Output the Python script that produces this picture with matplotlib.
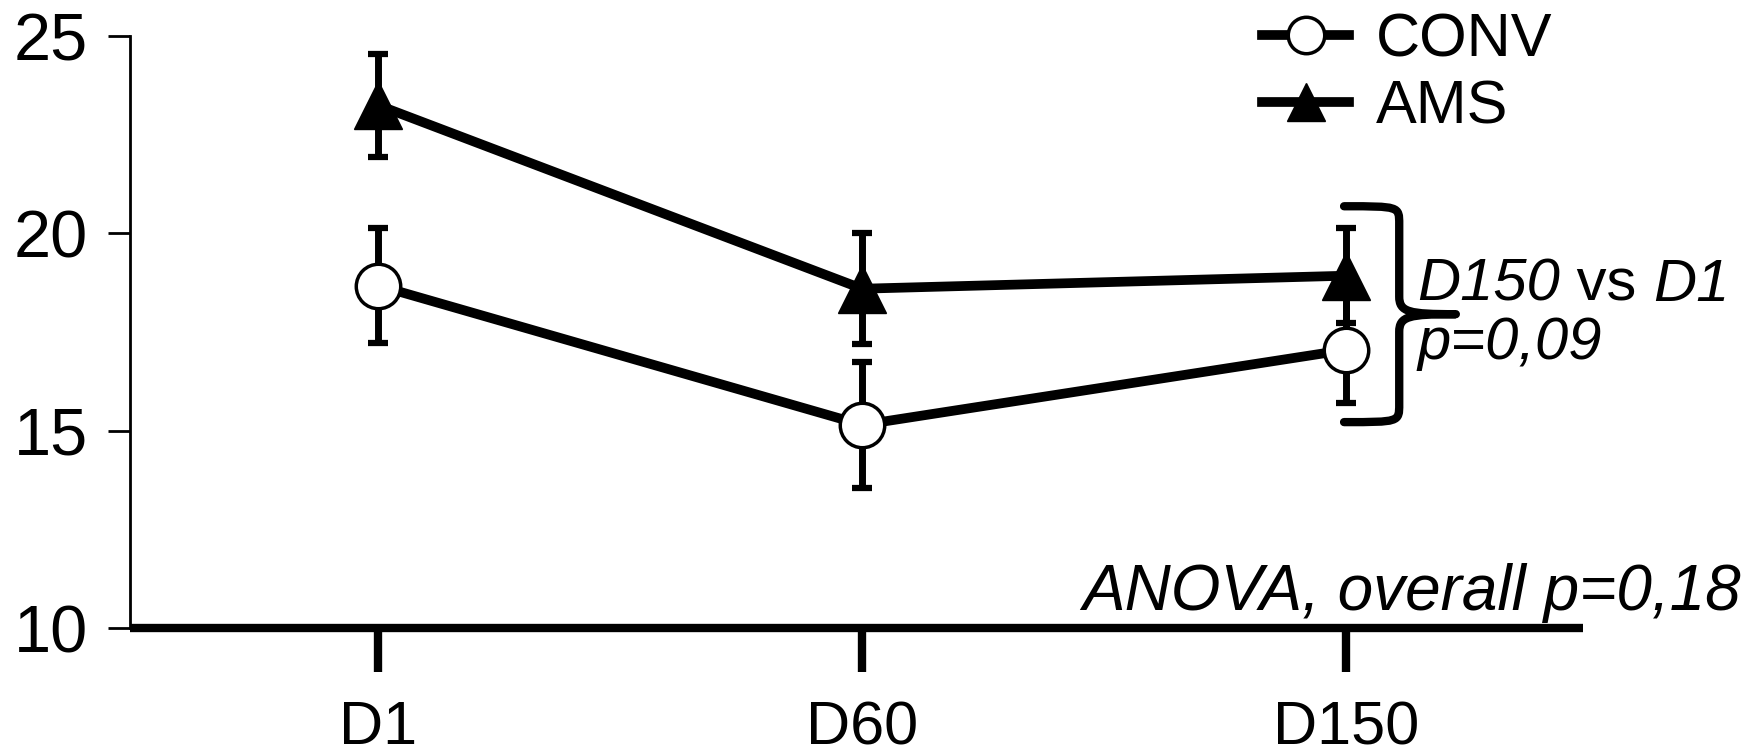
import numpy as np
import matplotlib
matplotlib.use("Agg")
import matplotlib.pyplot as plt
from matplotlib.path import Path
from matplotlib.patches import PathPatch

plt.rcParams['font.family'] = ['Liberation Sans', 'DejaVu Sans']

# --- data ---
days = ["D1", "D60", "D150"]
conv_mean = [18.68, 15.15, 17.05]
conv_err = [1.46, 1.6, 1.35]
ams_mean = [23.25, 18.6, 18.93]
ams_err = [1.3, 1.4, 1.2]
yticks = [10, 15, 20, 25]

# bracket annotation (data units)
brace_top, brace_bot = 20.69, 15.22

x = np.arange(1, len(days) + 1)

fig = plt.figure(figsize=(17.59, 7.54), dpi=100)
ax = fig.add_axes([0.0739, 0.167, 0.9 - 0.0739, 0.952 - 0.167])

# error bars behind lines/markers
ax.errorbar(x, conv_mean, yerr=conv_err, fmt='none', ecolor='black',
            elinewidth=5, capsize=7, capthick=4.5, zorder=1)
ax.errorbar(x, ams_mean, yerr=ams_err, fmt='none', ecolor='black',
            elinewidth=5, capsize=7, capthick=4.5, zorder=1)

h_conv, = ax.plot(x, conv_mean, color='black', lw=7, marker='o', ms=32,
                  mfc='white', mec='black', mew=2.5, zorder=3, label='CONV')
h_ams, = ax.plot(x, ams_mean, color='black', lw=7, marker='^', ms=34,
                 mfc='black', mec='black', zorder=3, label='AMS')

ax.set_xlim(0.487, 3.49)
ax.set_ylim(10, 25)

for s in ['top', 'right']:
    ax.spines[s].set_visible(False)
ax.spines['left'].set_linewidth(2)
ax.spines['bottom'].set_linewidth(6)
ax.spines['bottom'].set_capstyle('butt')

ax.set_yticks(yticks)
ax.set_yticklabels([str(v) for v in yticks])
ax.tick_params(axis='y', direction='out', length=16, width=2, pad=14, labelsize=48)
ax.set_xticks(x)
ax.set_xticklabels(days)
ax.tick_params(axis='x', direction='out', length=32, width=6, pad=20, labelsize=44)

# legend
fig.legend(handles=[h_conv, h_ams], loc='upper left', bbox_to_anchor=(0.700, 1.024),
           frameon=False, fontsize=44, handlelength=1.43, handletextpad=0.43,
           labelspacing=0.16, borderpad=0, markerscale=0.82, numpoints=1)

# curly brace at D150
x0, xv, xtip = 2.996, 3.11, 3.227
ym = (brace_top + brace_bot) / 2
r = 0.45
verts = [
    (x0, brace_top), (xv, brace_top), (xv, brace_top), (xv, brace_top - r),
    (xv, ym + r),
    (xv, ym + 0.05), (xv + 0.02, ym), (xtip, ym),
    (xv + 0.02, ym), (xv, ym - 0.05), (xv, ym - r),
    (xv, brace_bot + r),
    (xv, brace_bot), (xv, brace_bot), (x0, brace_bot),
]
codes = [Path.MOVETO, Path.CURVE4, Path.CURVE4, Path.CURVE4,
         Path.LINETO,
         Path.CURVE4, Path.CURVE4, Path.CURVE4,
         Path.CURVE4, Path.CURVE4, Path.CURVE4,
         Path.LINETO,
         Path.CURVE4, Path.CURVE4, Path.CURVE4]
ax.add_patch(PathPatch(Path(verts, codes), fill=False, lw=6, ec='black',
                       capstyle='round', joinstyle='round', clip_on=False, zorder=4))

# "D150 vs D1" with mixed italic
t1 = ax.text(3.147, 18.29, 'D150', fontsize=43, style='italic',
             ha='left', va='baseline', clip_on=False)
t2 = ax.annotate(' vs ', xy=(1, 0), xycoords=t1, fontsize=43,
                 ha='left', va='bottom', annotation_clip=False)
ax.annotate('D1', xy=(1, 0), xycoords=t2, fontsize=43, style='italic',
            ha='left', va='bottom', annotation_clip=False)
ax.text(3.147, 16.81, 'p=0,09', fontsize=43, style='italic',
        ha='left', va='baseline', clip_on=False)
ax.text(3.815, 10.45, 'ANOVA, overall p=0,18', fontsize=46, style='italic',
        ha='right', va='baseline', clip_on=False)

fig.savefig('out.png', dpi=100)
